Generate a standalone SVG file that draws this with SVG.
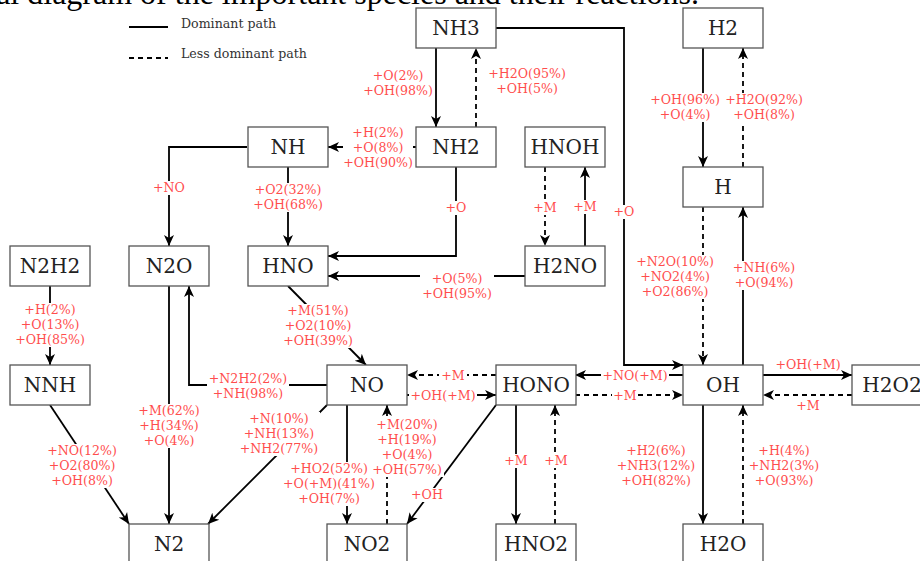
<svg xmlns="http://www.w3.org/2000/svg" width="920" height="561" viewBox="0 0 920 561">
<style>
.bg{fill:#fff}
.title{font-family:"Liberation Serif",serif;font-size:32px;fill:#000}
.node rect{fill:#fff;stroke:#555;stroke-width:1.3}
.node text{font-family:"DejaVu Serif",serif;font-size:20px;fill:#222;text-anchor:middle}
.s{fill:none;stroke:#000;stroke-width:1.8}
.d{fill:none;stroke:#000;stroke-width:1.8;stroke-dasharray:5 4}
.arr{marker-end:url(#ah)}
.lbl rect{fill:#fff;stroke:none}
.lbl text{font-family:"DejaVu Serif",serif;font-size:12.6px;fill:#ff4d4d;text-anchor:middle}
.leg text{font-family:"DejaVu Serif",serif;font-size:12.6px;fill:#333}
</style>
<defs>
<marker id="ah" viewBox="0 -6 12 12" refX="11" refY="0" markerWidth="12" markerHeight="12" markerUnits="userSpaceOnUse" orient="auto">
<path d="M0,-5 L11,0 L0,5 L3,0 Z" fill="#000" stroke="none"/>
</marker>
</defs>
<rect class="bg" x="0" y="0" width="920" height="561"/>
<text class="title" x="699" y="4" text-anchor="end">al diagram of the important species and their reactions.</text>

<g id="legend" class="leg">
<line class="s" x1="129" y1="27" x2="168" y2="27"/>
<text x="181" y="28">Dominant path</text>
<line class="d" x1="129" y1="58" x2="168" y2="58"/>
<text x="181" y="58">Less dominant path</text>
</g>

<g id="connectors">
<path class="s arr" d="M436,48 V127"/>
<path class="d arr" d="M476,127 V48"/>
<path class="s arr" d="M416,147 H328"/>
<path class="s arr" d="M247,147 H169 V246"/>
<path class="s arr" d="M288,167 V246"/>
<path class="s arr" d="M456,167 V256 H328"/>
<path class="d arr" d="M545,167 V246"/>
<path class="s arr" d="M585,246 V167"/>
<path class="s arr" d="M496,28 H624 V365 H683"/>
<path class="s arr" d="M525,276 H328"/>
<path class="s arr" d="M703,48 V167"/>
<path class="d arr" d="M743,167 V48"/>
<path class="d arr" d="M703,207 V365"/>
<path class="s arr" d="M743,365 V207"/>
<path class="s arr" d="M763,375 H852"/>
<path class="d arr" d="M852,395 H763"/>
<path class="s arr" d="M683,375 H575"/>
<path class="d arr" d="M575,395 H683"/>
<path class="d arr" d="M496,375 H407"/>
<path class="s arr" d="M407,395 H496"/>
<path class="s arr" d="M288,286 L366,365"/>
<path class="s arr" d="M327,385 H189 V286"/>
<path class="s arr" d="M169,286 V524"/>
<path class="s arr" d="M50,286 V365"/>
<path class="s arr" d="M50,405 L129,524"/>
<path class="s arr" d="M327,405 L208,524"/>
<path class="s arr" d="M347,405 V524"/>
<path class="d arr" d="M387,524 V405"/>
<path class="s arr" d="M496,405 L407,524"/>
<path class="s arr" d="M516,405 V524"/>
<path class="d arr" d="M555,524 V405"/>
<path class="s arr" d="M703,405 V524"/>
<path class="d arr" d="M743,524 V405"/>
</g>

<g id="labels" class="lbl">
<rect x="343" y="126" width="70" height="44"/>
<rect x="152" y="181" width="34" height="14"/>
<rect x="252" y="183" width="72" height="29"/>
<rect x="443" y="201" width="26" height="14"/>
<rect x="532" y="201" width="26" height="14"/>
<rect x="572" y="200" width="26" height="14"/>
<rect x="611" y="205" width="26" height="14"/>
<rect x="420" y="272" width="74" height="29"/>
<rect x="648" y="93" width="74" height="29"/>
<rect x="723" y="93" width="82" height="29"/>
<rect x="634" y="255" width="82" height="44"/>
<rect x="731" y="261" width="66" height="29"/>
<rect x="601" y="369" width="68" height="14"/>
<rect x="612" y="389" width="26" height="14"/>
<rect x="439" y="369" width="28" height="14"/>
<rect x="409" y="389" width="68" height="14"/>
<rect x="281" y="304" width="74" height="44"/>
<rect x="207" y="372" width="82" height="29"/>
<rect x="136" y="404" width="66" height="44"/>
<rect x="13" y="303" width="74" height="44"/>
<rect x="45" y="444" width="74" height="44"/>
<rect x="238" y="412" width="82" height="44"/>
<rect x="281" y="462" width="96" height="44"/>
<rect x="370" y="418" width="74" height="59"/>
<rect x="410" y="488" width="34" height="14"/>
<rect x="503" y="454" width="26" height="14"/>
<rect x="543" y="454" width="26" height="14"/>

<text x="398" y="80">+O(2%)<tspan x="398" y="95">+OH(98%)</tspan></text>
<text x="527" y="78">+H2O(95%)<tspan x="527" y="93">+OH(5%)</tspan></text>
<text x="378" y="137">+H(2%)<tspan x="378" y="152">+O(8%)</tspan><tspan x="378" y="167">+OH(90%)</tspan></text>
<text x="169" y="192">+NO</text>
<text x="288" y="194">+O2(32%)<tspan x="288" y="209">+OH(68%)</tspan></text>
<text x="456" y="212">+O</text>
<text x="545" y="212">+M</text>
<text x="585" y="211">+M</text>
<text x="624" y="216">+O</text>
<text x="457" y="283">+O(5%)<tspan x="457" y="298">+OH(95%)</tspan></text>
<text x="685" y="104">+OH(96%)<tspan x="685" y="119">+O(4%)</tspan></text>
<text x="764" y="104">+H2O(92%)<tspan x="764" y="119">+OH(8%)</tspan></text>
<text x="675" y="266">+N2O(10%)<tspan x="675" y="281">+NO2(4%)</tspan><tspan x="675" y="296">+O2(86%)</tspan></text>
<text x="764" y="272">+NH(6%)<tspan x="764" y="287">+O(94%)</tspan></text>
<text x="808" y="369">+OH(+M)</text>
<text x="808" y="410">+M</text>
<text x="635" y="380">+NO(+M)</text>
<text x="625" y="400">+M</text>
<text x="453" y="380">+M</text>
<text x="443" y="400">+OH(+M)</text>
<text x="318" y="315">+M(51%)<tspan x="318" y="330">+O2(10%)</tspan><tspan x="318" y="345">+OH(39%)</tspan></text>
<text x="248" y="383">+N2H2(2%)<tspan x="248" y="398">+NH(98%)</tspan></text>
<text x="169" y="415">+M(62%)<tspan x="169" y="430">+H(34%)</tspan><tspan x="169" y="445">+O(4%)</tspan></text>
<text x="50" y="314">+H(2%)<tspan x="50" y="329">+O(13%)</tspan><tspan x="50" y="344">+OH(85%)</tspan></text>
<text x="82" y="455">+NO(12%)<tspan x="82" y="470">+O2(80%)</tspan><tspan x="82" y="485">+OH(8%)</tspan></text>
<text x="279" y="423">+N(10%)<tspan x="279" y="438">+NH(13%)</tspan><tspan x="279" y="453">+NH2(77%)</tspan></text>
<text x="329" y="473">+HO2(52%)<tspan x="329" y="488">+O(+M)(41%)</tspan><tspan x="329" y="503">+OH(7%)</tspan></text>
<text x="407" y="429">+M(20%)<tspan x="407" y="444">+H(19%)</tspan><tspan x="407" y="459">+O(4%)</tspan><tspan x="407" y="474">+OH(57%)</tspan></text>
<text x="427" y="499">+OH</text>
<text x="516" y="465">+M</text>
<text x="556" y="465">+M</text>
<text x="656" y="455">+H2(6%)<tspan x="656" y="470">+NH3(12%)</tspan><tspan x="656" y="485">+OH(82%)</tspan></text>
<text x="784" y="455">+H(4%)<tspan x="784" y="470">+NH2(3%)</tspan><tspan x="784" y="485">+O(93%)</tspan></text>
</g>

<g id="NH3" class="node"><rect x="416" y="8" width="80" height="40"/><text x="456" y="35">NH3</text></g>
<g id="H2" class="node"><rect x="683" y="8" width="80" height="40"/><text x="723" y="35">H2</text></g>
<g id="NH" class="node"><rect x="248" y="127" width="80" height="40"/><text x="288" y="154">NH</text></g>
<g id="NH2" class="node"><rect x="416" y="127" width="80" height="40"/><text x="456" y="154">NH2</text></g>
<g id="HNOH" class="node"><rect x="525" y="127" width="80" height="40"/><text x="565" y="154">HNOH</text></g>
<g id="H" class="node"><rect x="683" y="167" width="80" height="40"/><text x="723" y="194">H</text></g>
<g id="N2H2" class="node"><rect x="10" y="246" width="80" height="40"/><text x="50" y="273">N2H2</text></g>
<g id="N2O" class="node"><rect x="129" y="246" width="80" height="40"/><text x="169" y="273">N2O</text></g>
<g id="HNO" class="node"><rect x="248" y="246" width="80" height="40"/><text x="288" y="273">HNO</text></g>
<g id="H2NO" class="node"><rect x="525" y="246" width="80" height="40"/><text x="565" y="273">H2NO</text></g>
<g id="NNH" class="node"><rect x="10" y="365" width="80" height="40"/><text x="50" y="392">NNH</text></g>
<g id="NO" class="node"><rect x="327" y="365" width="80" height="40"/><text x="367" y="392">NO</text></g>
<g id="HONO" class="node"><rect x="496" y="365" width="80" height="40"/><text x="536" y="392">HONO</text></g>
<g id="OH" class="node"><rect x="683" y="365" width="80" height="40"/><text x="723" y="392">OH</text></g>
<g id="H2O2" class="node"><rect x="852" y="365" width="80" height="40"/><text x="892" y="392">H2O2</text></g>
<g id="N2" class="node"><rect x="129" y="524" width="80" height="40"/><text x="169" y="551">N2</text></g>
<g id="NO2" class="node"><rect x="327" y="524" width="80" height="40"/><text x="367" y="551">NO2</text></g>
<g id="HNO2" class="node"><rect x="496" y="524" width="80" height="40"/><text x="536" y="551">HNO2</text></g>
<g id="H2O" class="node"><rect x="683" y="524" width="80" height="40"/><text x="723" y="551">H2O</text></g>
</svg>
